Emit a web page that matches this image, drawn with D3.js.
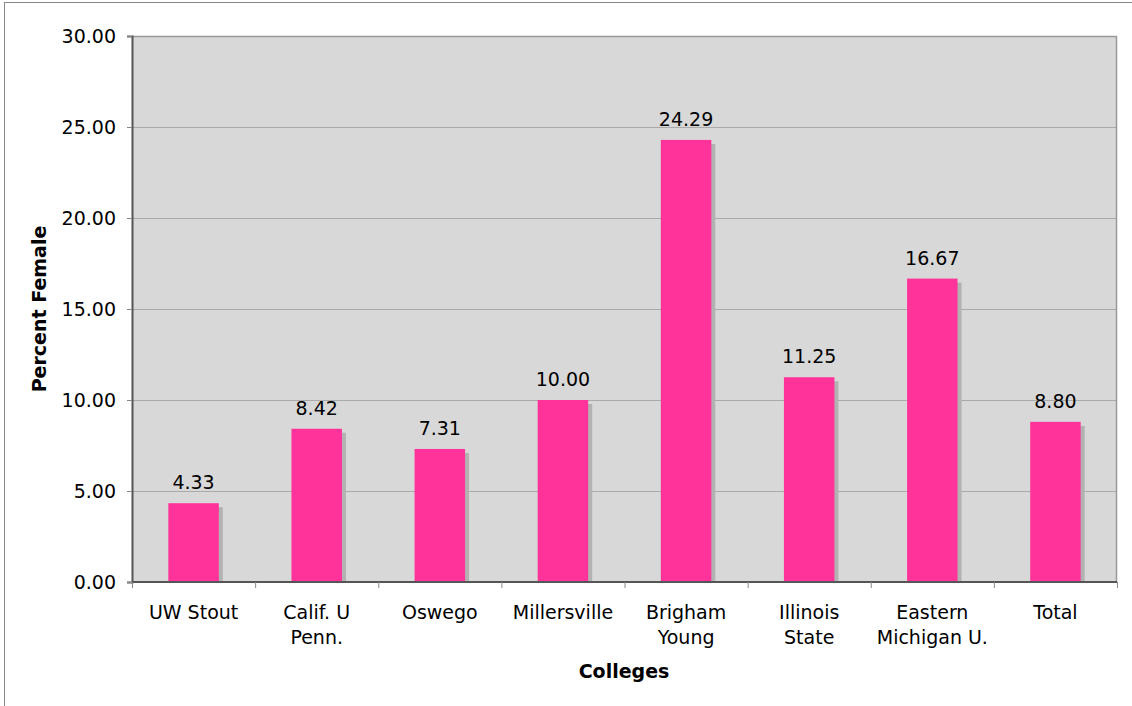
<!DOCTYPE html>
<meta charset="utf-8">
<style>
  body { margin: 0; background: #fff; }
  svg text { font-family: "DejaVu Sans", Verdana, sans-serif; fill: #000; }
</style>
<body>
<div id="chart"></div>
<script src="https://d3js.org/d3.v7.min.js"></script>
<script>

// data
var colleges = [["UW Stout"], ["Calif. U", "Penn."], ["Oswego"], ["Millersville"],
                ["Brigham", "Young"], ["Illinois", "State"], ["Eastern", "Michigan U."], ["Total"]];
var percentFemale = [4.33, 8.42, 7.31, 10.00, 24.29, 11.25, 16.67, 8.80];
var yTicks = [0, 5, 10, 15, 20, 25, 30];

var W = 1132, H = 706;
var margin = {top: 36, right: 15, bottom: 124, left: 132};
var width = W - margin.left - margin.right,
    height = H - margin.top - margin.bottom;

var svg = d3.select("#chart").append("svg")
    .attr("width", W)
    .attr("height", H);

// outer frame
svg.append("rect")
    .attr("x", 4.5).attr("y", 2.5)
    .attr("width", W + 10).attr("height", H + 10)
    .attr("fill", "none")
    .attr("stroke", "#888")
    .attr("stroke-width", 1);

var g = svg.append("g")
    .attr("transform", "translate(" + margin.left + "," + margin.top + ")");

var idx = d3.range(colleges.length);

var x = d3.scaleBand()
    .domain(idx)
    .range([0, width])
    .paddingInner(0.59)
    .paddingOuter(0.295);

var xEdge = d3.scaleLinear()
    .domain([0, colleges.length])
    .range([0, width]);

var y = d3.scaleLinear()
    .domain([0, 30])
    .range([height, 0]);

// plot background
g.append("rect")
    .attr("width", width).attr("height", height)
    .attr("fill", "#d8d8d8");

// gridlines
g.append("g")
    .call(d3.axisLeft(y).tickValues(yTicks).tickSize(-width).tickFormat(""))
    .call(function(s) {
      s.select(".domain").remove();
      s.selectAll("line").attr("stroke", "#aaa");
    });

// frame top/right
g.append("path")
    .attr("d", "M0,0.5H" + (width - 0.5) + "V" + height)
    .attr("fill", "none")
    .attr("stroke", "#999")
    .attr("stroke-width", 1.5);

// bar shadows
g.selectAll(".shadow")
  .data(percentFemale)
  .enter().append("rect")
    .attr("class", "shadow")
    .attr("x", function(d, i) { return x(i) + 4; })
    .attr("y", function(d) { return y(d) + 4; })
    .attr("width", x.bandwidth())
    .attr("height", function(d) { return height - y(d) - 4; })
    .attr("fill", "#b2b2b2");

// bars
g.selectAll(".bar")
  .data(percentFemale)
  .enter().append("rect")
    .attr("class", "bar")
    .attr("x", function(d, i) { return x(i); })
    .attr("y", function(d) { return y(d); })
    .attr("width", x.bandwidth())
    .attr("height", function(d) { return height - y(d); })
    .attr("fill", "#ff3399");

// value labels
g.selectAll(".val")
  .data(percentFemale)
  .enter().append("text")
    .attr("class", "val")
    .attr("x", function(d, i) { return x(i) + x.bandwidth() / 2; })
    .attr("y", function(d) { return y(d) - 14; })
    .attr("text-anchor", "middle")
    .style("font-size", "19px")
    .text(d3.format(".2f"));

// y axis
var yAxis = g.append("g")
    .call(d3.axisLeft(y).tickValues(yTicks).tickSize(5).tickPadding(11).tickFormat(d3.format(".2f")));
yAxis.select(".domain").attr("stroke", "#555").attr("stroke-width", 2);
yAxis.selectAll("line").attr("stroke", "#888");
yAxis.selectAll("text").style("font-size", "19px").attr("dy", "0.36em");

// x axis
var xAxis = g.append("g").attr("transform", "translate(0," + height + ")");
xAxis.append("line")
    .attr("x1", 0).attr("x2", width)
    .attr("stroke", "#555").attr("stroke-width", 2);
xAxis.selectAll(".tk")
  .data(d3.range(colleges.length + 1))
  .enter().append("line")
    .attr("x1", function(d) { return xEdge(d) + 0.5; })
    .attr("x2", function(d) { return xEdge(d) + 0.5; })
    .attr("y1", 0).attr("y2", 6)
    .attr("stroke", "#888");

xAxis.selectAll(".lab")
  .data(colleges)
  .enter().append("text")
    .attr("class", "lab")
    .attr("text-anchor", "middle")
    .style("font-size", "19px")
    .attr("transform", function(d, i) { return "translate(" + (x(i) + x.bandwidth() / 2) + ",37)"; })
    .selectAll("tspan")
    .data(function(d) { return d; })
    .enter().append("tspan")
      .attr("x", 0)
      .attr("y", function(d, j) { return j * 25; })
      .text(function(d) { return d; });

// axis titles
svg.append("text")
    .attr("x", margin.left + width / 2 - 0.5)
    .attr("y", 678)
    .attr("text-anchor", "middle")
    .style("font-size", "19px")
    .style("font-weight", "bold")
    .text("Colleges");

svg.append("text")
    .attr("transform", "translate(46," + (margin.top + height / 2) + ") rotate(-90)")
    .attr("text-anchor", "middle")
    .style("font-size", "19px")
    .style("font-weight", "bold")
    .text("Percent Female");

</script>
</body>
